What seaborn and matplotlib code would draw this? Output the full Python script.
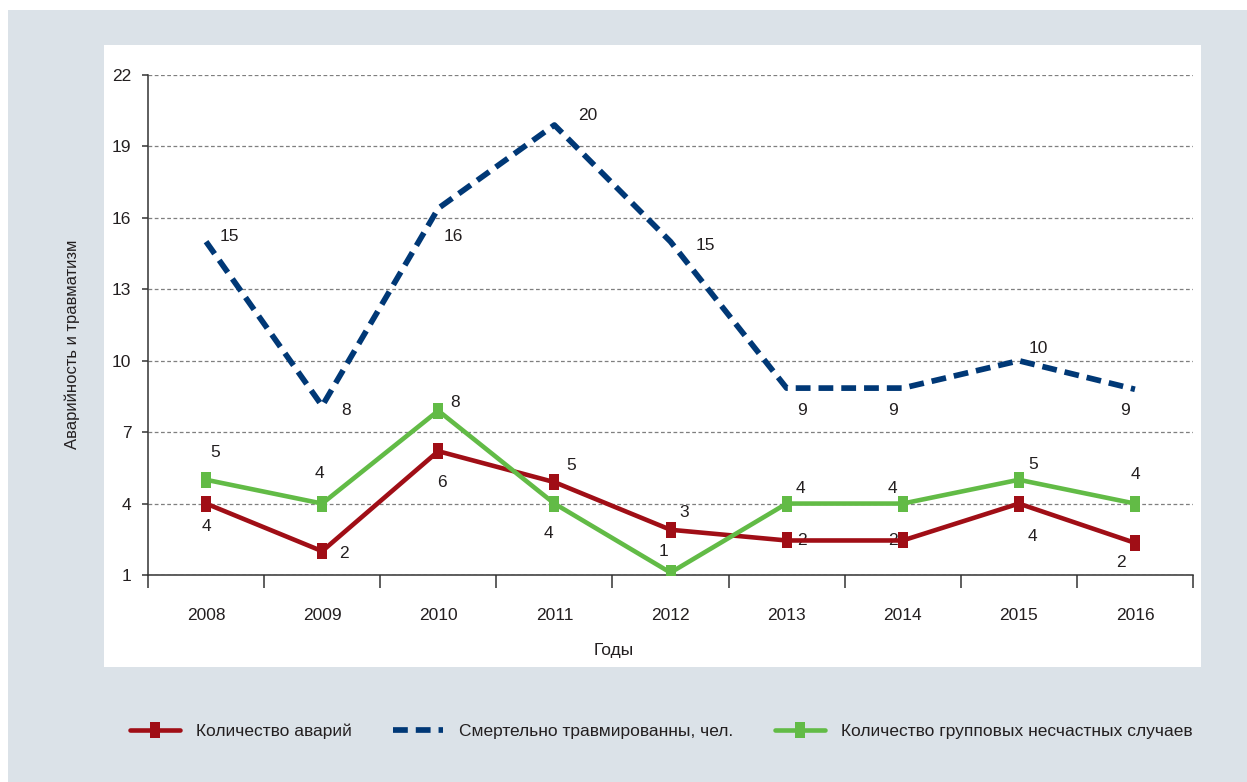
import numpy as np
import pandas as pd
import matplotlib
matplotlib.use("Agg")
import matplotlib.pyplot as plt
from matplotlib.patches import Rectangle
import seaborn as sns

# data
years = [2008, 2009, 2010, 2011, 2012, 2013, 2014, 2015, 2016]
accidents = [4.0, 2.0, 6.2, 4.9, 2.9, 2.45, 2.45, 4.0, 2.35]
accidents_labels = [4, 2, 6, 5, 3, 2, 2, 4, 2]
fatal = [15.0, 8.1, 16.4, 19.9, 15.0, 8.85, 8.85, 10.0, 8.8]
fatal_labels = [15, 8, 16, 20, 15, 9, 9, 10, 9]
group = [5.0, 4.0, 7.9, 4.0, 1.1, 4.0, 4.0, 5.0, 4.0]
group_labels = [5, 4, 8, 4, 1, 4, 4, 5, 4]
y_ticks = [1, 4, 7, 10, 13, 16, 19, 22]
names = [
    "Количество аварий",
    "Смертельно травмированны, чел.",
    "Количество групповых несчастных случаев",
]

# where each value label sits relative to its point (pixels)
accidents_off = [(0, -23), (22, -2), (4, -31), (17, 17), (14, 17), (15, 0), (-10, 0), (14, -33), (-14, -20)]
fatal_off = [(23, 5), (24, -5), (15, -28), (33, 10), (35, -4), (15, -22), (-10, -22), (19, 12), (-10, -21)]
group_off = [(9, 27), (-3, 30), (17, 8), (-6, -30), (-7, 21), (14, 15), (-10, 15), (14, 15), (0, 29)]

RED = "#a00e16"
BLUE = "#003876"
GREEN = "#62bb46"
BG = "#dbe2e8"
TXT = "#231f20"

sns.set_theme(style="white")
plt.rcParams["font.family"] = ["Liberation Sans", "DejaVu Sans"]

W, H = 1247, 782
fig = plt.figure(figsize=(W / 100, H / 100), dpi=100)
fig.patch.set_facecolor("white")

# gray outer panel and white chart panel
fig.add_artist(Rectangle((8 / W, 0), 1 - 8 / W, 1 - 10 / H, transform=fig.transFigure,
                         facecolor=BG, edgecolor="none", zorder=-10))
fig.add_artist(Rectangle((104 / W, 1 - 667 / H), (1201 - 104) / W, (667 - 45) / H,
                         transform=fig.transFigure, facecolor="white", edgecolor="none", zorder=-9))

ax = fig.add_axes([148 / W, 1 - 575 / H, (1193 - 148) / W, (575 - 75) / H])
ax.set_facecolor("none")

rect = [(-0.31, -0.5), (0.31, -0.5), (0.31, 0.5), (-0.31, 0.5), (-0.31, -0.5)]

df = pd.DataFrame({"year": years, "acc": accidents, "fat": fatal, "grp": group})

sns.lineplot(data=df, x="year", y="acc", ax=ax, color=RED, lw=3.3, marker=rect,
             markersize=11.5, markeredgewidth=0, label=names[0], zorder=3)
sns.lineplot(data=df, x="year", y="fat", ax=ax, color=BLUE, lw=4.1,
             linestyle=(0, (2.6, 1.4)), dash_capstyle="butt", label=names[1], zorder=3)
sns.lineplot(data=df, x="year", y="grp", ax=ax, color=GREEN, lw=3.3, marker=rect,
             markersize=11.5, markeredgewidth=0, label=names[2], zorder=3)

for vals, labs, offs in [(accidents, accidents_labels, accidents_off),
                         (fatal, fatal_labels, fatal_off),
                         (group, group_labels, group_off)]:
    for x, y, lab, off in zip(years, vals, labs, offs):
        ax.annotate(str(lab), (x, y), xytext=off, textcoords="offset pixels",
                    ha="center", va="center", fontsize=12.5, color=TXT, zorder=2)

ax.set_xlim(years[0] - 0.5, years[-1] + 0.5)
ax.set_ylim(y_ticks[0], y_ticks[-1])
ax.set_yticks(y_ticks)
ax.set_xticks(years)
ax.set_xticklabels([str(y) for y in years])
ax.set_xticks([y - 0.5 for y in years] + [years[-1] + 0.5], minor=True)

ax.yaxis.grid(True, color="#7f7f7f", linestyle=(0, (3, 2)), linewidth=0.9)
ax.set_axisbelow(True)

for side in ["top", "right"]:
    ax.spines[side].set_visible(False)
for side in ["left", "bottom"]:
    ax.spines[side].set_color("#333333")
    ax.spines[side].set_linewidth(1.1)

ax.tick_params(axis="y", which="major", left=True, length=4, width=1.1, color="#333333",
               pad=8, labelsize=12.5, labelcolor=TXT)
ax.tick_params(axis="x", which="major", bottom=True, length=0, pad=24, labelsize=12.5, labelcolor=TXT)
ax.tick_params(axis="x", which="minor", bottom=True, length=9, width=1.1, color="#333333")

ax.set_xlabel("Годы", fontsize=12.5, color=TXT)
ax.set_ylabel("Аварийность и травматизм", fontsize=12, color=TXT)
ax.xaxis.set_label_coords((614 - 148) / 1045, (575 - 650) / 500)
ax.xaxis.label.set_va("center")
ax.yaxis.set_label_coords((72 - 148) / 1045, (575 - 344) / 500)
ax.yaxis.label.set_va("center")
ax.yaxis.label.set_ha("center")

handles, labels = ax.get_legend_handles_labels()
if ax.get_legend() is not None:
    ax.get_legend().remove()
fig.legend(handles, labels, ncol=3, loc="center left", bbox_to_anchor=(114 / W, 1 - 731 / H),
           frameon=False, fontsize=12.5, handlelength=2.9, handletextpad=0.9,
           columnspacing=2.4, labelcolor=TXT)

fig.savefig("out.png", dpi=100, facecolor=fig.get_facecolor())
